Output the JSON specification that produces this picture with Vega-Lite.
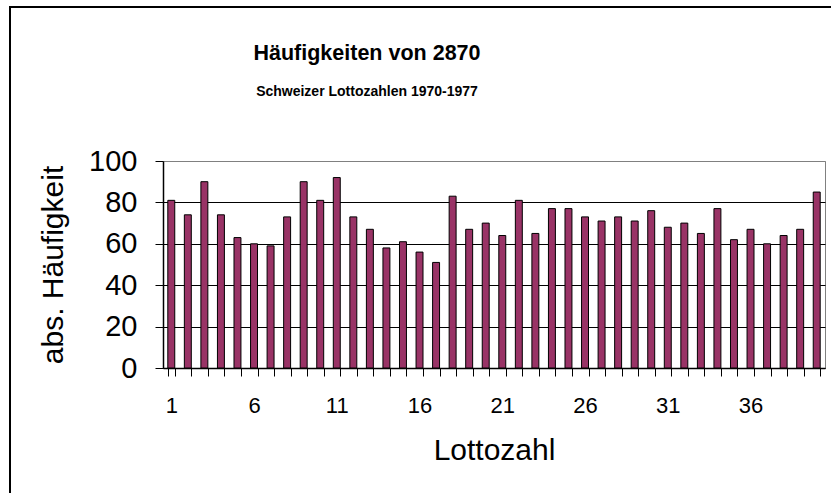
{
  "$schema": "https://vega.github.io/schema/vega-lite/v6.json",
  "width": 662,
  "height": 207,
  "autosize": "none",
  "padding": {"left": 163, "top": 161, "right": 6, "bottom": 125},
  "background": "white",
  "title": {
    "text": "Häufigkeiten von 2870",
    "subtitle": "Schweizer Lottozahlen 1970-1977",
    "anchor": "middle",
    "frame": "group",
    "dx": -127,
    "offset": -93,
    "font": "Liberation Sans",
    "fontSize": 21.5,
    "fontWeight": "bold",
    "color": "black",
    "subtitleFont": "Liberation Sans",
    "subtitleFontSize": 14,
    "subtitleFontWeight": "bold",
    "subtitleColor": "black",
    "subtitlePadding": 21
  },
  "config": {
    "view": {"stroke": "#808080", "strokeWidth": 1},
    "axis": {"labelFont": "Liberation Sans", "titleFont": "Liberation Sans", "labelColor": "black", "titleColor": "black", "titleFontWeight": "normal"}
  },
  "data": {
    "values": [
      {"zahl": 1, "anzahl": 81}, {"zahl": 2, "anzahl": 74}, {"zahl": 3, "anzahl": 90}, {"zahl": 4, "anzahl": 74},
      {"zahl": 5, "anzahl": 63}, {"zahl": 6, "anzahl": 60}, {"zahl": 7, "anzahl": 59}, {"zahl": 8, "anzahl": 73},
      {"zahl": 9, "anzahl": 90}, {"zahl": 10, "anzahl": 81}, {"zahl": 11, "anzahl": 92}, {"zahl": 12, "anzahl": 73},
      {"zahl": 13, "anzahl": 67}, {"zahl": 14, "anzahl": 58}, {"zahl": 15, "anzahl": 61}, {"zahl": 16, "anzahl": 56},
      {"zahl": 17, "anzahl": 51}, {"zahl": 18, "anzahl": 83}, {"zahl": 19, "anzahl": 67}, {"zahl": 20, "anzahl": 70},
      {"zahl": 21, "anzahl": 64}, {"zahl": 22, "anzahl": 81}, {"zahl": 23, "anzahl": 65}, {"zahl": 24, "anzahl": 77},
      {"zahl": 25, "anzahl": 77}, {"zahl": 26, "anzahl": 73}, {"zahl": 27, "anzahl": 71}, {"zahl": 28, "anzahl": 73},
      {"zahl": 29, "anzahl": 71}, {"zahl": 30, "anzahl": 76}, {"zahl": 31, "anzahl": 68}, {"zahl": 32, "anzahl": 70},
      {"zahl": 33, "anzahl": 65}, {"zahl": 34, "anzahl": 77}, {"zahl": 35, "anzahl": 62}, {"zahl": 36, "anzahl": 67},
      {"zahl": 37, "anzahl": 60}, {"zahl": 38, "anzahl": 64}, {"zahl": 39, "anzahl": 67}, {"zahl": 40, "anzahl": 85}
    ]
  },
  "layer": [
    {
      "mark": {"type": "bar", "fill": "#993366", "stroke": "black", "strokeWidth": 1},
      "encoding": {
        "x": {
          "field": "zahl",
          "type": "ordinal",
          "scale": {"paddingInner": 0.58, "paddingOuter": 0.29},
          "axis": {
            "title": "Lottozahl",
            "titleFontSize": 30,
            "titlePadding": 19,
            "labelFontSize": 22,
            "labelAngle": 0,
            "labelPadding": 19,
            "labelExpr": "datum.value % 5 == 1 ? datum.label : ''",
            "tickBand": "extent",
            "tickSize": 8,
            "tickColor": "black",
            "domainColor": "black",
            "domainWidth": 1.5,
            "grid": false
          }
        },
        "y": {
          "field": "anzahl",
          "type": "quantitative",
          "scale": {"domain": [0, 100], "nice": false},
          "axis": {
            "title": "abs. Häufigkeit",
            "titleFontSize": 30,
            "titlePadding": 20,
            "values": [0, 20, 40, 60, 80, 100],
            "labelFontSize": 29,
            "labelPadding": 18,
            "tickSize": 8,
            "tickColor": "black",
            "domainColor": "black",
            "domainWidth": 1.5,
            "grid": true,
            "gridColor": {"condition": {"test": "datum.value === 100", "value": "#808080"}, "value": "black"},
            "gridOpacity": 1
          }
        }
      }
    },
    {
      "data": {"values": [{"rahmen": 1}]},
      "mark": {"type": "rect", "fill": null, "stroke": "black", "strokeWidth": 2, "clip": false},
      "encoding": {
        "x": {"value": -153},
        "x2": {"value": 700},
        "y": {"value": -154},
        "y2": {"value": 360}
      }
    }
  ]
}
